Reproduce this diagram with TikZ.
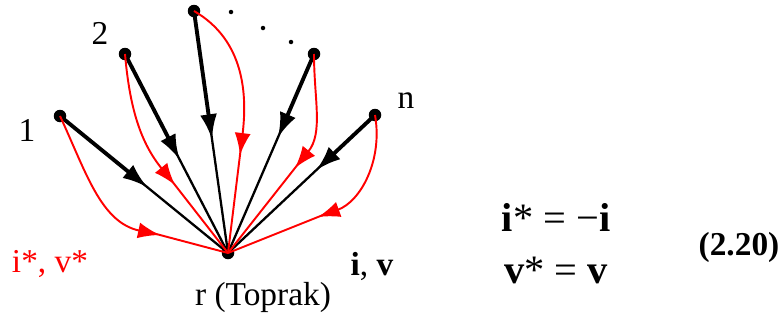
\documentclass[tikz,border=0pt]{standalone}
\usepackage{fontspec}
\setmainfont{Liberation Serif}
\usetikzlibrary{arrows.meta, calc}

\begin{document}
\begin{tikzpicture}[
    font           = \fontsize{19}{23}\selectfont,
    pt/.style      = {circle, fill=black, inner sep=0pt, minimum size=0.25cm},
    blk/.style     = {black, line width=2.2pt, -{Latex[length=5mm, width=3.4mm]}},
    blkthin/.style = {black, line width=1.3pt},
    rd/.style      = {red, line width=1.1pt, -{Latex[length=4.4mm, width=3.2mm]}},
    rdthin/.style  = {red, line width=1.1pt},
  ]
  \useasboundingbox (0,0) rectangle (15.64,6.4);
  % terminals and the ground node
  \node[pt] (p1) at (1.2,4.08) {};
  \node[pt] (p2) at (2.5,5.32) {};
  \node[pt] (p3) at (3.88,6.18) {};
  \node[pt] (p4) at (6.28,5.32) {};
  \node[pt] (pn) at (7.5,4.1) {};
  \node[pt] (r)  at (4.56,1.34) {};
  \fill (4.62,6.16) circle (0.045);
  \fill (5.26,5.84) circle (0.045);
  \fill (5.82,5.56) circle (0.045);
  % black branches (i, v)
  \draw[blkthin] (p1.center) -- (r.center);
  \draw[blk] (p1.center) -- ($(p1)!0.52!(r)$);
  \draw[blkthin] (p2.center) -- (r.center);
  \draw[blk] (p2.center) -- ($(p2)!0.53!(r)$);
  \draw[blkthin] (p3.center) -- (r.center);
  \draw[blk] (p3.center) -- ($(p3)!0.53!(r)$);
  \draw[blkthin] (p4.center) -- (r.center);
  \draw[blk] (p4.center) -- ($(p4)!0.42!(r)$);
  \draw[blkthin] (pn.center) -- (r.center);
  \draw[blk] (pn.center) -- ($(pn)!0.40!(r)$);
  % red branches (i*, v*)
  \coordinate (b1) at (3.2,1.7);
  \coordinate (b2) at (3.5,2.7);
  \coordinate (b3) at (4.8,3.3);
  \coordinate (b4) at (5.9,3.04);
  \coordinate (bn) at (6.36,2.06);
  \draw[rdthin] ($(b1)!-0.2cm!(r)$) -- (r.center);
  \draw[rd] (p1.center) to[out=-65, in=168] (b1);
  \draw[rdthin] ($(b2)!-0.2cm!(r)$) -- (r.center);
  \draw[rd] (p2.center) to[out=-85, in=129] (b2);
  \draw[rdthin] ($(b3)!-0.2cm!(r)$) -- (r.center);
  \draw[rd] (p3.center) to[out=-30, in=83] (b3);
  \draw[rdthin] ($(b4)!-0.2cm!(r)$) -- (r.center);
  \draw[rd] (p4.center) to[out=-90, in=51] (b4);
  \draw[rdthin] ($(bn)!-0.2cm!(r)$) -- (r.center);
  \draw[rd] (pn.center) to[out=-80, in=20] (bn);
  % labels
  \node (l1) at (0.54,3.8) {1};
  \node (l2) at (2.0,5.74) {2};
  \node (ln) at (8.12,4.38) {n};
  \node[red] (lstar) at (1.0,1.12) {i*, v*};
  \node (liv) at (7.44,1.08) {\textbf{i}, \textbf{v}};
  \node (lr) at (5.26,0.46) {r (Toprak)};
  \node[font=\fontsize{23}{27}\selectfont] (eqi) at (11.12,2.06) {\textbf{i}* = −\textbf{i}};
  \node[font=\fontsize{23}{27}\selectfont] (eqv) at (11.12,1.0) {\textbf{v}* = \textbf{v}};
  \node[font=\fontsize{19}{23}\selectfont\bfseries] (eqno) at (14.78,1.46) {(2.20)};
\end{tikzpicture}
\end{document}
